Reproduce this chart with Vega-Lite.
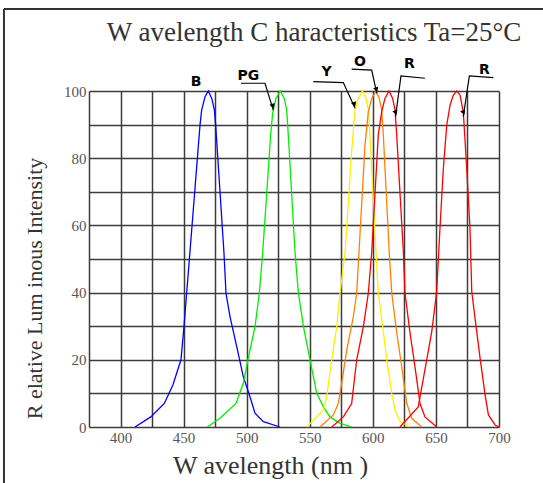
{
  "$schema": "https://vega.github.io/schema/vega-lite/v6.json",
  "autosize": "none",
  "width": 410,
  "height": 336,
  "padding": {"left": 89, "top": 91, "right": 44, "bottom": 56},
  "background": "white",
  "config": {
    "view": {"stroke": null},
    "axis": {
      "labelFont": "Liberation Serif",
      "labelFontSize": 15,
      "labelColor": "#555555",
      "labelOverlap": false,
      "labelFlush": false,
      "tickCount": 100,
      "titleFont": "Liberation Serif",
      "titleFontWeight": "normal",
      "titleColor": "#333333",
      "domain": false,
      "ticks": false,
      "gridColor": "#3c3c3c",
      "gridWidth": 1.5,
      "gridOpacity": 1
    }
  },
  "datasets": {
    "curves": [
      {"s": "B", "x": 411.5, "y": 0}, {"s": "B", "x": 424, "y": 3}, {"s": "B", "x": 434.7, "y": 7}, {"s": "B", "x": 441.5, "y": 12.5}, {"s": "B", "x": 447.9, "y": 20}, {"s": "B", "x": 450.3, "y": 29.9}, {"s": "B", "x": 452.4, "y": 39.8}, {"s": "B", "x": 455, "y": 52}, {"s": "B", "x": 463, "y": 89.9}, {"s": "B", "x": 464.3, "y": 94.3}, {"s": "B", "x": 467, "y": 98.3}, {"s": "B", "x": 469.6, "y": 100}, {"s": "B", "x": 472.3, "y": 97.8}, {"s": "B", "x": 474.4, "y": 94.3}, {"s": "B", "x": 475.4, "y": 89.9}, {"s": "B", "x": 482, "y": 51.7}, {"s": "B", "x": 483.6, "y": 39.8}, {"s": "B", "x": 486.8, "y": 32.8}, {"s": "B", "x": 492.1, "y": 23.9}, {"s": "B", "x": 497.3, "y": 15}, {"s": "B", "x": 502.6, "y": 9}, {"s": "B", "x": 506.6, "y": 4.1}, {"s": "B", "x": 513.2, "y": 1.6}, {"s": "B", "x": 526.4, "y": 0},
      {"s": "PG", "x": 468.8, "y": 0}, {"s": "PG", "x": 478.8, "y": 2.6}, {"s": "PG", "x": 491.5, "y": 7}, {"s": "PG", "x": 497.3, "y": 13}, {"s": "PG", "x": 502.6, "y": 22.9}, {"s": "PG", "x": 506.6, "y": 29.9}, {"s": "PG", "x": 510, "y": 39.8}, {"s": "PG", "x": 512.7, "y": 52}, {"s": "PG", "x": 519, "y": 86.9}, {"s": "PG", "x": 520.6, "y": 93.4}, {"s": "PG", "x": 523.2, "y": 97.8}, {"s": "PG", "x": 526.6, "y": 100}, {"s": "PG", "x": 529.8, "y": 97.8}, {"s": "PG", "x": 531.7, "y": 94.3}, {"s": "PG", "x": 532.5, "y": 89.9}, {"s": "PG", "x": 538.3, "y": 52}, {"s": "PG", "x": 541, "y": 39.8}, {"s": "PG", "x": 545, "y": 29.9}, {"s": "PG", "x": 550.2, "y": 20}, {"s": "PG", "x": 555.5, "y": 10}, {"s": "PG", "x": 560.8, "y": 6}, {"s": "PG", "x": 566, "y": 3}, {"s": "PG", "x": 574, "y": 1.1}, {"s": "PG", "x": 583.2, "y": 0},
      {"s": "Y", "x": 547.6, "y": 0}, {"s": "Y", "x": 560.8, "y": 5}, {"s": "Y", "x": 563.4, "y": 9}, {"s": "Y", "x": 567.4, "y": 20}, {"s": "Y", "x": 571.4, "y": 29.9}, {"s": "Y", "x": 574, "y": 39.8}, {"s": "Y", "x": 578, "y": 52}, {"s": "Y", "x": 583.2, "y": 82}, {"s": "Y", "x": 585.9, "y": 94.3}, {"s": "Y", "x": 588.5, "y": 97.8}, {"s": "Y", "x": 591.7, "y": 100}, {"s": "Y", "x": 594.6, "y": 97.8}, {"s": "Y", "x": 596.4, "y": 94.3}, {"s": "Y", "x": 597.7, "y": 86.9}, {"s": "Y", "x": 602.5, "y": 52}, {"s": "Y", "x": 604.3, "y": 39.8}, {"s": "Y", "x": 607.8, "y": 29.9}, {"s": "Y", "x": 611, "y": 20}, {"s": "Y", "x": 615, "y": 10}, {"s": "Y", "x": 617.6, "y": 5}, {"s": "Y", "x": 621.5, "y": 1.6}, {"s": "Y", "x": 629.5, "y": 0},
      {"s": "O", "x": 558.1, "y": 0}, {"s": "O", "x": 568.7, "y": 3.6}, {"s": "O", "x": 572.6, "y": 7}, {"s": "O", "x": 575.3, "y": 13}, {"s": "O", "x": 579.3, "y": 22.9}, {"s": "O", "x": 584.5, "y": 32.8}, {"s": "O", "x": 587.2, "y": 39.8}, {"s": "O", "x": 589, "y": 52}, {"s": "O", "x": 593.8, "y": 83.9}, {"s": "O", "x": 596.4, "y": 93.8}, {"s": "O", "x": 599.1, "y": 97.8}, {"s": "O", "x": 602.5, "y": 100}, {"s": "O", "x": 605.1, "y": 97.8}, {"s": "O", "x": 607, "y": 94.3}, {"s": "O", "x": 608.3, "y": 86.9}, {"s": "O", "x": 613, "y": 52}, {"s": "O", "x": 615, "y": 39.8}, {"s": "O", "x": 619, "y": 27.9}, {"s": "O", "x": 622.9, "y": 17.9}, {"s": "O", "x": 626.9, "y": 7}, {"s": "O", "x": 630.8, "y": 2.6}, {"s": "O", "x": 638.7, "y": 0},
      {"s": "R1", "x": 567.4, "y": 0}, {"s": "R1", "x": 576.6, "y": 3}, {"s": "R1", "x": 583.2, "y": 7}, {"s": "R1", "x": 587.2, "y": 20}, {"s": "R1", "x": 592.5, "y": 29.9}, {"s": "R1", "x": 596.4, "y": 39.8}, {"s": "R1", "x": 599.1, "y": 52}, {"s": "R1", "x": 604.3, "y": 86.9}, {"s": "R1", "x": 607, "y": 93.8}, {"s": "R1", "x": 609.6, "y": 97.8}, {"s": "R1", "x": 612.8, "y": 100}, {"s": "R1", "x": 615.7, "y": 97.8}, {"s": "R1", "x": 617.6, "y": 94.3}, {"s": "R1", "x": 618.9, "y": 86.9}, {"s": "R1", "x": 624.2, "y": 52}, {"s": "R1", "x": 625.5, "y": 39.8}, {"s": "R1", "x": 629.5, "y": 27.9}, {"s": "R1", "x": 633.4, "y": 17.9}, {"s": "R1", "x": 637.4, "y": 7}, {"s": "R1", "x": 641.3, "y": 3}, {"s": "R1", "x": 650.6, "y": 0},
      {"s": "R2", "x": 621.5, "y": 0}, {"s": "R2", "x": 636, "y": 6}, {"s": "R2", "x": 646.7, "y": 28.4}, {"s": "R2", "x": 650.6, "y": 40.3}, {"s": "R2", "x": 653.2, "y": 59.1}, {"s": "R2", "x": 655.9, "y": 77}, {"s": "R2", "x": 658.6, "y": 89.9}, {"s": "R2", "x": 661.2, "y": 95.8}, {"s": "R2", "x": 663.8, "y": 98.8}, {"s": "R2", "x": 666.5, "y": 100}, {"s": "R2", "x": 669.1, "y": 98.8}, {"s": "R2", "x": 671.7, "y": 93.8}, {"s": "R2", "x": 674.4, "y": 77}, {"s": "R2", "x": 677, "y": 59.1}, {"s": "R2", "x": 678.4, "y": 40.3}, {"s": "R2", "x": 681, "y": 32.4}, {"s": "R2", "x": 685, "y": 20.5}, {"s": "R2", "x": 689, "y": 9.5}, {"s": "R2", "x": 691.6, "y": 3.6}, {"s": "R2", "x": 696.9, "y": 0.6}, {"s": "R2", "x": 700, "y": 0}
    ],
    "leaders": [
      {"id": "PG", "k": 1, "x": 495.5, "y": 102.3}, {"id": "PG", "k": 2, "x": 514.5, "y": 102.3}, {"id": "PG", "k": 3, "x": 521.1, "y": 94.3},
      {"id": "Y", "k": 1, "x": 552.8, "y": 102.8}, {"id": "Y", "k": 2, "x": 576.6, "y": 102.5}, {"id": "Y", "k": 3, "x": 585.9, "y": 94.9},
      {"id": "O", "k": 1, "x": 583.2, "y": 106.5}, {"id": "O", "k": 2, "x": 599.1, "y": 106.2}, {"id": "O", "k": 3, "x": 603.1, "y": 99.3},
      {"id": "R1", "k": 1, "x": 641.3, "y": 103.8}, {"id": "R1", "k": 2, "x": 622.3, "y": 104.5}, {"id": "R1", "k": 3, "x": 618, "y": 92.4},
      {"id": "R2", "k": 1, "x": 695.5, "y": 104}, {"id": "R2", "k": 2, "x": 676.5, "y": 104.5}, {"id": "R2", "k": 3, "x": 671.7, "y": 92.4}
    ],
    "arrows": [
      {"id": "PG", "x": 520.7, "y": 95.5},
      {"id": "Y", "x": 585.3, "y": 96},
      {"id": "O", "x": 602.9, "y": 100.4},
      {"id": "R1", "x": 618.2, "y": 93.6},
      {"id": "R2", "x": 671.9, "y": 93.6}
    ],
    "labels": [
      {"t": "B", "x": 459.8, "y": 102.8},
      {"t": "PG", "x": 501.3, "y": 104.6},
      {"t": "Y", "x": 563.4, "y": 105.6},
      {"t": "O", "x": 589.8, "y": 108.7},
      {"t": "R", "x": 628.9, "y": 107.9},
      {"t": "R", "x": 688.4, "y": 106.3}
    ],
    "heading": [
      {"t": "W avelength C haracteristics Ta=25°C", "x": 553.4, "y": 117.3}
    ]
  },
  "layer": [
    {
      "data": {"name": "curves"},
      "mark": {"type": "line", "strokeWidth": 1.3},
      "encoding": {
        "x": {
          "field": "x", "type": "quantitative",
          "scale": {"domain": [375, 700], "nice": false, "zero": false},
          "axis": {
            "values": [375, 400, 425, 450, 475, 500, 525, 550, 575, 600, 625, 650, 675, 700],
            "labelExpr": "datum.value % 50 == 0 && datum.value >= 400 ? datum.label : ''",
            "labelPadding": 3,
            "title": "W avelength (nm )",
            "titleFontSize": 26,
            "titleX": 181,
            "titleY": 25,
            "titleBaseline": "top"
          }
        },
        "y": {
          "field": "y", "type": "quantitative",
          "scale": {"domain": [0, 100], "nice": false},
          "axis": {
            "values": [0, 10, 20, 30, 40, 50, 60, 70, 80, 90, 100],
            "labelExpr": "datum.value % 20 == 0 ? datum.label : ''",
            "labelPadding": 3,
            "title": "R elative Lum inous Intensity",
            "titleFontSize": 22,
            "titleX": -43,
            "titleY": 197,
            "titleAngle": -90,
            "titleBaseline": "bottom"
          }
        },
        "color": {
          "field": "s", "type": "nominal",
          "scale": {"domain": ["B", "PG", "Y", "O", "R1", "R2"], "range": ["#0000ff", "#00ee00", "#ffee00", "#ff8000", "#ff0000", "#ff0000"]},
          "legend": null
        }
      }
    },
    {
      "data": {"name": "leaders"},
      "mark": {"type": "line", "color": "black", "strokeWidth": 1.2},
      "encoding": {
        "x": {"field": "x", "type": "quantitative"},
        "y": {"field": "y", "type": "quantitative"},
        "detail": {"field": "id"},
        "order": {"field": "k"}
      }
    },
    {
      "data": {"name": "arrows"},
      "mark": {"type": "point", "shape": "triangle-down", "filled": true, "color": "black", "size": 30, "opacity": 1},
      "encoding": {
        "x": {"field": "x", "type": "quantitative"},
        "y": {"field": "y", "type": "quantitative"},
        "angle": {"field": "id", "type": "nominal", "scale": {"domain": ["PG", "Y", "O", "R1", "R2"], "range": [343, 335, 348, 8, 8]}, "legend": null}
      }
    },
    {
      "data": {"name": "labels"},
      "mark": {"type": "text", "font": "DejaVu Sans", "fontWeight": "bold", "fontSize": 14, "color": "black", "baseline": "middle"},
      "encoding": {
        "x": {"field": "x", "type": "quantitative"},
        "y": {"field": "y", "type": "quantitative"},
        "text": {"field": "t"}
      }
    },
    {
      "data": {"name": "heading"},
      "mark": {"type": "text", "font": "Liberation Serif", "fontSize": 27, "color": "#333333", "baseline": "middle", "align": "center"},
      "encoding": {
        "x": {"field": "x", "type": "quantitative"},
        "y": {"field": "y", "type": "quantitative"},
        "text": {"field": "t"}
      }
    },
    {
      "data": {"values": [{}]},
      "mark": {"type": "rule", "color": "#333333", "strokeWidth": 2},
      "encoding": {
        "x": {"datum": 307.6, "type": "quantitative"},
        "x2": {"datum": 740},
        "y": {"datum": 124.4, "type": "quantitative"}
      }
    },
    {
      "data": {"values": [{}]},
      "mark": {"type": "rule", "color": "#333333", "strokeWidth": 2},
      "encoding": {
        "x": {"datum": 307.6, "type": "quantitative"},
        "y": {"datum": 124.4, "type": "quantitative"},
        "y2": {"datum": -20}
      }
    }
  ]
}
